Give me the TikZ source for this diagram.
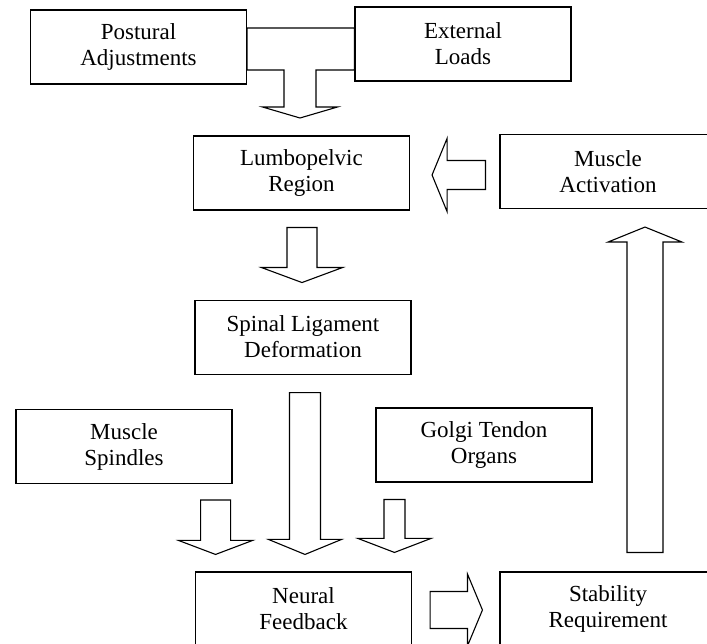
\documentclass[tikz,border=0pt]{standalone}
\usepackage{fontspec}
\setmainfont{Liberation Serif}
\usetikzlibrary{calc,positioning}

% block arrow: start, tip, shaft half width, head half width, head length
\newcommand{\blkarrow}[5]{%
  \coordinate (blkH) at ($(#2)!#5!(#1)$);
  \draw[blk] ($(#1)!#3!90:(#2)$) -- ($(blkH)!#3!90:(#2)$) -- ($(blkH)!#4!90:(#2)$) -- (#2)
    -- ($(blkH)!#4!-90:(#2)$) -- ($(blkH)!#3!-90:(#2)$) -- ($(#1)!#3!-90:(#2)$) -- cycle;}

\begin{document}
\begin{tikzpicture}[x=1pt,y=1pt,
    box/.style={draw,line width=1.1pt,minimum width=216pt,minimum height=74pt,
                align=center,inner sep=0pt,font=\fontsize{23}{26}\selectfont},
    blk/.style={draw,line width=1.1pt,line join=miter,fill=white}]
  \useasboundingbox (0,0) rectangle (707,643);
  \clip (0,0) rectangle (707,643);

  \node[box] (post)   at (138.5,596) {Postural\\Adjustments};
  \node[box] (ext)    at (463,599)   {External\\Loads};
  \node[box] (lumbo)  at (301.5,470) {Lumbopelvic\\Region};
  \node[box] (act)    at (608,471.5) {Muscle\\Activation};
  \node[box] (spinal) [below=89pt of lumbo, xshift=1.5pt] {Spinal Ligament\\Deformation};
  \node[box] (spind)  at (124,196.5) {Muscle\\Spindles};
  \node[box] (golgi)  at (484,198)   {Golgi Tendon\\Organs};
  \node[box] (neural) at (303.5,34)  {Neural\\Feedback};
  \node[box] (stab)   at (608,34)    {Stability\\Requirement};

  % T-shaped arrow from the two top boxes
  \draw[blk] (post.east |- 0,615) -- (ext.west |- 0,615) -- (ext.west |- 0,573)
    -- (316,573) -- (316,536) -- (337.5,536) -- (300,525) -- (262.5,536)
    -- (284,536) -- (284,573) -- (post.east |- 0,573) -- cycle;

  \coordinate (ls) at ($(lumbo.south)+(0.5,-17)$);
  \coordinate (le) at ($(ls |- spinal.north)+(0,17)$);
  \coordinate (ss) at ($(spinal.south)+(2,-18)$);
  \coordinate (se) at ($(ss |- neural.north)+(0,17)$);
  \coordinate (ms) at ($(spind.south east)+(-17,-16)$);
  \coordinate (me) at ($(ms |- neural.north)+(0,17)$);
  \coordinate (gs) at ($(golgi.south west)+(19,-17)$);
  \coordinate (ge) at ($(gs |- neural.north)+(0,19)$);
  \coordinate (ns) at ($(neural.east)+(18,-1)$);
  \coordinate (ne) at ($(stab.west)+(-17,-1)$);
  \coordinate (rs) at ($(stab.north)+(37,19)$);
  \coordinate (re) at ($(act.south)+(37,-18)$);
  \coordinate (as) at ($(act.west)+(-14,-3.5)$);
  \coordinate (ae) at ($(lumbo.east |- as)+(22,0)$);

  \blkarrow{ls}{le}{15pt}{40.5pt}{15pt}
  \blkarrow{ss}{se}{15.5pt}{36.5pt}{15pt}
  \blkarrow{ms}{me}{15pt}{37pt}{14pt}
  \blkarrow{gs}{ge}{10.5pt}{36.5pt}{14pt}
  \blkarrow{ns}{ne}{18.5pt}{36pt}{15pt}
  \blkarrow{rs}{re}{18pt}{37pt}{15pt}
  \blkarrow{as}{ae}{14.5pt}{36.5pt}{15pt}
\end{tikzpicture}
\end{document}
